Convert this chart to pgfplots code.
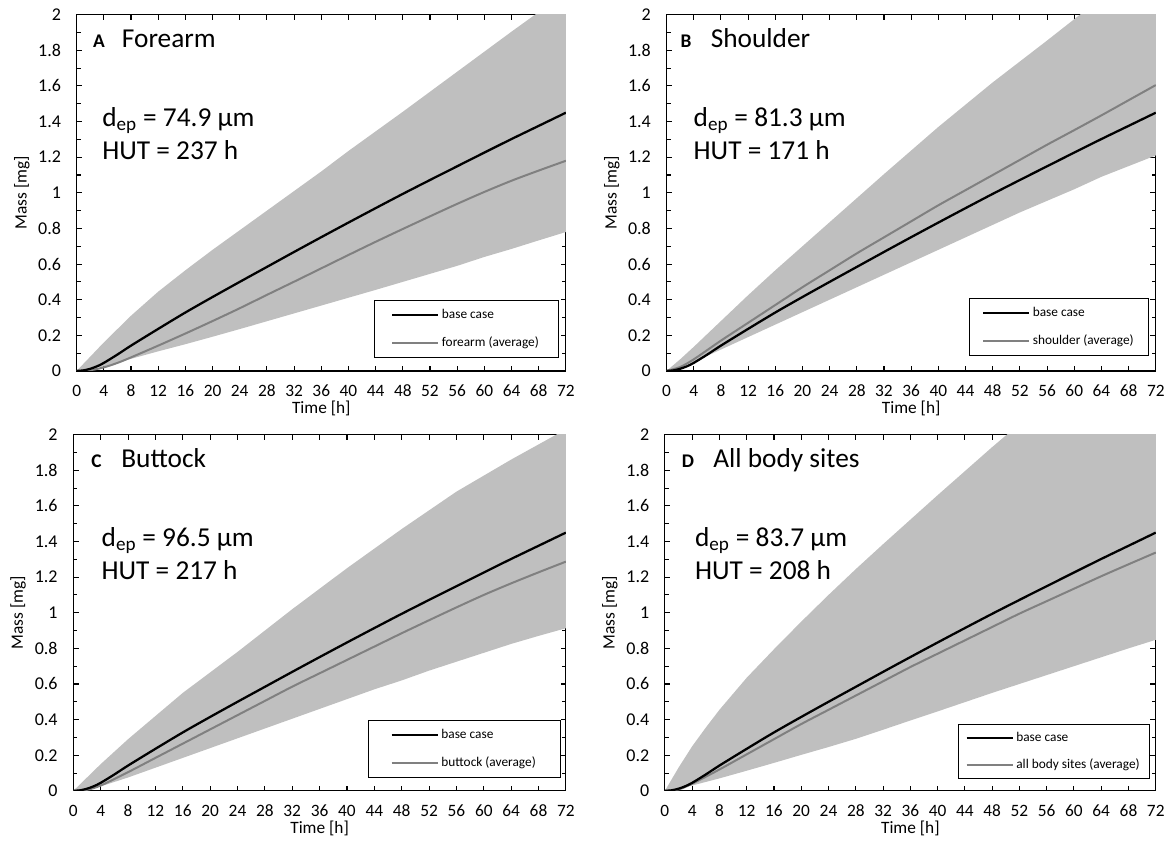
\documentclass[border=0pt]{standalone}
\usepackage{fontspec}
\setmainfont{Carlito}
\usepackage{pgfplots}
\pgfplotsset{compat=1.18}
\definecolor{bandgray}{HTML}{BFBFBF}
\definecolor{avggray}{HTML}{808080}
\newcommand{\xtickfont}{\fontsize{13}{15}\selectfont}
\newcommand{\ytickfont}{\fontsize{13.5}{15}\selectfont}
\newcommand{\labelfont}{\fontsize{13}{15}\selectfont}
\newcommand{\bigfont}{\fontsize{20.5}{23}\selectfont}
\newcommand{\letterfont}{\bfseries\fontsize{14.5}{16}\selectfont}
\pgfplotsset{
  panel/.style={
    scale only axis, height=267.2pt,
    xmin=0, xmax=72, ymin=0, ymax=2,
    xtick={0,4,...,72},
    ytick={0,0.2,0.4,0.6,0.8,1,1.2,1.4,1.6,1.8,2},
    minor y tick num=1,
    tick align=inside, major tick length=4pt, minor tick length=3pt,
    every tick/.style={black, line width=0.8pt},
    axis line style={line width=0.9pt},
    /pgf/number format/assume math mode=true,
    yticklabel style={font=\ytickfont, xshift=-8.25pt},
    xticklabel style={font=\xtickfont, yshift=-7pt},
    xlabel={Time [h]}, ylabel={Mass [mg]},
    label style={font=\labelfont},
    xlabel style={at={(axis description cs:0.5,-0.106)}, anchor=center},
    ylabel style={at={(axis description cs:-0.112,0.5)}, anchor=center},
    legend image code/.code={\draw[##1] (0pt,0pt) -- (34.5pt,0pt);},
    legend cell align=left,
    legend style={draw=black, line width=0.75pt, font=\fontsize{10}{12}\selectfont,
      nodes={inner sep=2pt, text height=7pt, text depth=2pt},
      row sep=8pt, inner ysep=4.4pt, inner xsep=12.75pt},
  },
  bcline/.style={black, line width=1.7pt, smooth},
  avline/.style={avggray, line width=1.5pt, smooth},
  bandfill/.style={fill=bandgray, draw=none},
}
\pgfplotstableread{
t v
0 0
1 0.003
2 0.012
3 0.026
4 0.045
6 0.092
8 0.142
12 0.236
16 0.328
20 0.415
24 0.50
28 0.584
32 0.668
36 0.751
40 0.833
44 0.914
48 0.994
52 1.072
56 1.149
60 1.226
64 1.302
68 1.376
72 1.45
}\basetable
\begin{document}
\begin{tikzpicture}
\path (0pt,0pt) rectangle (876.75pt,-629.25pt);
% ---------------- A
\begin{axis}[panel, at={(57.5pt,-278.25pt)}, anchor=south west, width=367pt,
  legend style={at={(axis description cs:0.986,0.036)}, anchor=south east}]
\addplot[bandfill, forget plot] coordinates {(0,0) (2,0.08) (4,0.16) (8,0.31) (12,0.445) (16,0.565) (20,0.68) (24,0.79) (28,0.90) (32,1.01) (36,1.12) (40,1.235) (44,1.345) (48,1.455) (56,1.68) (64,1.905) (68,2.015) (72,2.13)
 (72,0.78) (68,0.733) (64,0.685) (60,0.64) (56,0.59) (52,0.545) (48,0.50) (44,0.455) (40,0.411) (36,0.367) (32,0.323) (28,0.279) (24,0.235) (20,0.192) (16,0.15) (12,0.11) (8,0.068) (4,0.025) (0,0)} \closedcycle;
\addplot[avline, forget plot] coordinates {(0,0) (2,0.004) (4,0.02) (6,0.045) (8,0.076) (12,0.142) (16,0.21) (20,0.28) (24,0.352) (28,0.427) (32,0.501) (36,0.576) (40,0.651) (44,0.725) (48,0.797) (52,0.868) (56,0.938) (60,1.005) (64,1.068) (68,1.125) (72,1.18)};
\addplot[bcline, forget plot] table[x=t, y=v] {\basetable};
\addlegendimage{black, line width=1.7pt}
\addlegendentry{base case}
\addlegendimage{avggray, line width=1.5pt}
\addlegendentry{forearm (average)}
\node[anchor=base west, inner sep=0pt, font=\letterfont] at (axis description cs:0.033,0.907) {A};
\node[anchor=base west, inner sep=0pt, font=\bigfont] at (axis description cs:0.092,0.907) {Forearm};
\node[anchor=base west, inner sep=0pt, font=\bigfont] at (axis description cs:0.052,0.686) {d\textsubscript{ep} = 74.9 µm};
\node[anchor=base west, inner sep=0pt, font=\bigfont] at (axis description cs:0.052,0.594) {HUT = 237 h};
\end{axis}
% ---------------- B
\begin{axis}[panel, at={(500pt,-278.25pt)}, anchor=south west, width=367pt,
  legend style={at={(axis description cs:0.986,0.042)}, anchor=south east, inner xsep=9pt}]
\addplot[bandfill, forget plot] coordinates {(0,0) (2,0.065) (4,0.135) (8,0.28) (12,0.425) (16,0.565) (20,0.70) (24,0.835) (28,0.97) (32,1.105) (40,1.37) (48,1.62) (56,1.855) (60,1.975) (64,2.095) (72,2.33)
 (72,1.21) (68,1.15) (64,1.09) (60,1.02) (56,0.955) (52,0.89) (48,0.82) (44,0.75) (40,0.68) (36,0.61) (32,0.54) (28,0.47) (24,0.40) (20,0.33) (16,0.26) (12,0.19) (8,0.12) (4,0.05) (0,0)} \closedcycle;
\addplot[avline, forget plot] coordinates {(0,0) (2,0.022) (4,0.065) (8,0.17) (12,0.27) (16,0.37) (20,0.47) (24,0.565) (28,0.66) (32,0.75) (36,0.84) (40,0.93) (44,1.015) (48,1.10) (52,1.185) (56,1.27) (60,1.352) (64,1.435) (68,1.52) (72,1.605)};
\addplot[bcline, forget plot] table[x=t, y=v] {\basetable};
\addlegendimage{black, line width=1.7pt}
\addlegendentry{base case}
\addlegendimage{avggray, line width=1.5pt}
\addlegendentry{shoulder (average)}
\node[anchor=base west, inner sep=0pt, font=\letterfont] at (axis description cs:0.028,0.907) {B};
\node[anchor=base west, inner sep=0pt, font=\bigfont] at (axis description cs:0.090,0.907) {Shoulder};
\node[anchor=base west, inner sep=0pt, font=\bigfont] at (axis description cs:0.055,0.686) {d\textsubscript{ep} = 81.3 µm};
\node[anchor=base west, inner sep=0pt, font=\bigfont] at (axis description cs:0.055,0.594) {HUT = 171 h};
\end{axis}
% ---------------- C
\begin{axis}[panel, at={(55pt,-593.25pt)}, anchor=south west, width=369.5pt,
  legend style={at={(axis description cs:0.99,0.036)}, anchor=south east, inner xsep=16.5pt}]
\addplot[bandfill, forget plot] coordinates {(0,0) (2,0.075) (4,0.15) (8,0.29) (12,0.42) (16,0.55) (20,0.665) (24,0.78) (28,0.90) (32,1.02) (40,1.25) (48,1.47) (56,1.68) (64,1.86) (72,2.03)
 (72,0.913) (68,0.87) (64,0.825) (60,0.775) (56,0.725) (52,0.675) (48,0.62) (44,0.57) (40,0.515) (36,0.46) (32,0.405) (28,0.35) (24,0.295) (20,0.24) (16,0.185) (12,0.13) (8,0.075) (4,0.025) (0,0)} \closedcycle;
\addplot[avline, forget plot] coordinates {(0,0) (2,0.006) (4,0.03) (8,0.105) (12,0.185) (16,0.265) (20,0.345) (24,0.425) (28,0.505) (32,0.585) (36,0.66) (40,0.735) (44,0.81) (48,0.885) (52,0.958) (56,1.03) (60,1.1) (64,1.165) (68,1.227) (72,1.287)};
\addplot[bcline, forget plot] table[x=t, y=v] {\basetable};
\addlegendimage{black, line width=1.7pt}
\addlegendentry{base case}
\addlegendimage{avggray, line width=1.5pt}
\addlegendentry{buttock (average)}
\node[anchor=base west, inner sep=0pt, font=\letterfont] at (axis description cs:0.036,0.907) {C};
\node[anchor=base west, inner sep=0pt, font=\bigfont] at (axis description cs:0.097,0.907) {Buttock};
\node[anchor=base west, inner sep=0pt, font=\bigfont] at (axis description cs:0.057,0.686) {d\textsubscript{ep} = 96.5 µm};
\node[anchor=base west, inner sep=0pt, font=\bigfont] at (axis description cs:0.057,0.594) {HUT = 217 h};
\end{axis}
% ---------------- D
\begin{axis}[panel, at={(498.75pt,-593.25pt)}, anchor=south west, width=368.25pt,
  legend style={at={(axis description cs:0.988,0.034)}, anchor=south east, inner xsep=5.25pt, inner ysep=3.25pt, row sep=7.5pt}]
\addplot[bandfill, forget plot] coordinates {(0,0) (2,0.13) (4,0.25) (6,0.355) (8,0.455) (12,0.635) (16,0.795) (20,0.95) (24,1.10) (28,1.245) (32,1.385) (40,1.66) (48,1.93) (52,2.06) (72,2.65)
 (72,0.848) (68,0.80) (64,0.75) (60,0.70) (56,0.65) (52,0.60) (48,0.55) (44,0.498) (40,0.446) (36,0.395) (32,0.343) (28,0.292) (24,0.246) (20,0.202) (16,0.157) (12,0.113) (8,0.07) (4,0.03) (0,0)} \closedcycle;
\addplot[avline, forget plot] coordinates {(0,0) (2,0.008) (4,0.04) (8,0.12) (12,0.205) (16,0.29) (20,0.375) (24,0.455) (28,0.535) (32,0.615) (36,0.695) (40,0.77) (44,0.845) (48,0.92) (52,0.995) (56,1.065) (60,1.135) (64,1.205) (68,1.272) (72,1.338)};
\addplot[bcline, forget plot] table[x=t, y=v] {\basetable};
\addlegendimage{black, line width=1.7pt}
\addlegendentry{base case}
\addlegendimage{avggray, line width=1.5pt}
\addlegendentry{all body sites (average)}
\node[anchor=base west, inner sep=0pt, font=\letterfont] at (axis description cs:0.034,0.907) {D};
\node[anchor=base west, inner sep=0pt, font=\bigfont] at (axis description cs:0.098,0.907) {All body sites};
\node[anchor=base west, inner sep=0pt, font=\bigfont] at (axis description cs:0.061,0.686) {d\textsubscript{ep} = 83.7 µm};
\node[anchor=base west, inner sep=0pt, font=\bigfont] at (axis description cs:0.061,0.594) {HUT = 208 h};
\end{axis}
\end{tikzpicture}
\end{document}
